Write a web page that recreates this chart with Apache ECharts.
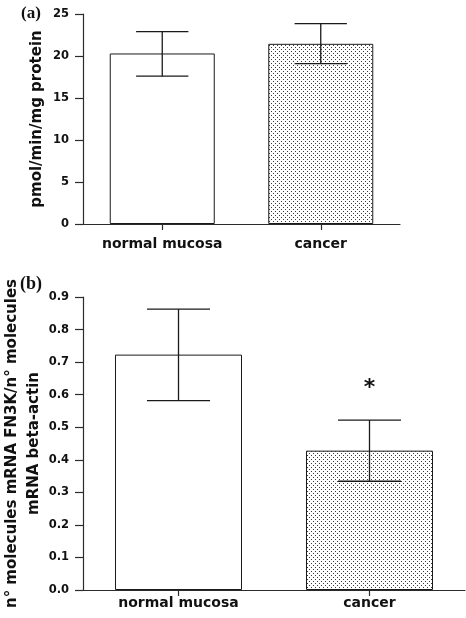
<!DOCTYPE html>
<html>
<head>
<meta charset="utf-8">
<script src="https://cdn.jsdelivr.net/npm/echarts@6/dist/echarts.min.js"></script>
<style>
html,body{margin:0;padding:0;background:#fff;}
#chart{width:466px;height:618px;}
</style>
</head>
<body>
<div id="chart"></div>
<script>
// ---- data ----
const categories = ['normal mucosa', 'cancer'];
// panel (a): enzyme activity
const activityMean = [20.3, 21.45];
const activityLow  = [17.6, 19.1];
const activityHigh = [22.9, 23.85];
const activityTicks = [0, 5, 10, 15, 20, 25];
// panel (b): mRNA ratio
const mrnaMean = [0.723, 0.428];
const mrnaLow  = [0.582, 0.334];
const mrnaHigh = [0.863, 0.522];
const mrnaTicks = [0.0, 0.1, 0.2, 0.3, 0.4, 0.5, 0.6, 0.7, 0.8, 0.9];
const significance = ['', '*'];

// ---- stipple pattern ----
function makeDots() {
  const c = document.createElement('canvas');
  c.width = 4; c.height = 4;
  const g = c.getContext('2d');
  g.fillStyle = '#ffffff'; g.fillRect(0, 0, 4, 4);
  g.fillStyle = '#3a3a3a';
  g.fillRect(1, 1, 1, 1);
  g.fillRect(3, 3, 1, 1);
  return c;
}
const dotFill = { image: makeDots(), repeat: 'repeat' };

const FONT = 'DejaVu Sans';
const axisColor = '#2b2b2b';

function barData(vals) {
  return vals.map((v, i) => ({
    value: v,
    itemStyle: { color: i === 1 ? dotFill : '#ffffff', borderColor: '#1a1a1a', borderWidth: 1 }
  }));
}
function errData(lo, hi, marks) {
  return lo.map((l, i) => [i, l, hi[i], marks ? marks[i] : '']);
}
function errRender(params, api) {
  const x = api.value(0);
  const lo = api.coord([x, api.value(1)]);
  const hi = api.coord([x, api.value(2)]);
  const half = api.size([1, 0])[0] * 0.165;
  const st = { stroke: '#1a1a1a', lineWidth: 1.3 };
  const children = [
    { type: 'line', shape: { x1: lo[0], y1: lo[1], x2: hi[0], y2: hi[1] }, style: st },
    { type: 'line', shape: { x1: hi[0] - half, y1: hi[1], x2: hi[0] + half, y2: hi[1] }, style: st },
    { type: 'line', shape: { x1: lo[0] - half, y1: lo[1], x2: lo[0] + half, y2: lo[1] }, style: st }
  ];
  const mark = api.value(3);
  if (mark) {
    children.push({ type: 'text', x: hi[0], y: hi[1] - 32,
      style: { text: mark, font: 'bold 22px ' + FONT, fill: '#111', align: 'center', verticalAlign: 'middle' } });
  }
  return { type: 'group', children: children };
}

function yAxisCfg(gi, min, max, interval, name, gap, dec) {
  return {
    gridIndex: gi, type: 'value', min: min, max: max, interval: interval,
    name: name, nameLocation: 'middle', nameGap: gap, nameRotate: 90, nameMoveOverlap: false,
    nameTextStyle: { fontFamily: FONT, fontWeight: 'bold', fontSize: 15, color: '#111', lineHeight: 22 },
    axisLine: { show: true, lineStyle: { color: axisColor, width: 1.2 } },
    axisTick: { show: true, length: 8, lineStyle: { color: axisColor, width: 1.2 } },
    axisLabel: { margin: 14, fontFamily: FONT, fontWeight: 'bold', fontSize: 11.5, color: '#111',
      formatter: v => v.toFixed(dec) },
    splitLine: { show: false }
  };
}
function xAxisCfg(gi, margin) {
  return {
    gridIndex: gi, type: 'category', data: categories,
    axisLine: { show: true, lineStyle: { color: axisColor, width: 1.2 } },
    axisTick: { show: true, alignWithLabel: true, length: 6, lineStyle: { color: axisColor, width: 1.2 } },
    axisLabel: { margin: margin, fontFamily: FONT, fontWeight: 'bold', fontSize: 14, color: '#111' }
  };
}

const chart = echarts.init(document.getElementById('chart'), null, { renderer: 'canvas' });
chart.setOption({
  animation: false,
  backgroundColor: '#ffffff',
  grid: [
    { left: 83, top: 14, width: 317, height: 210, containLabel: false, outerBoundsMode: 'none' },
    { left: 83, top: 297, width: 382, height: 293, containLabel: false, outerBoundsMode: 'none' }
  ],
  xAxis: [xAxisCfg(0, 13), xAxisCfg(1, 6)],
  yAxis: [
    yAxisCfg(0, activityTicks[0], activityTicks[activityTicks.length - 1], activityTicks[1] - activityTicks[0], 'pmol/min/mg protein', 35, 0),
    yAxisCfg(1, mrnaTicks[0], mrnaTicks[mrnaTicks.length - 1], 0.1, 'n° molecules mRNA FN3K/n° molecules\nmRNA beta-actin', 38, 1)
  ],
  graphic: [
    { type: 'text', left: 21, top: 5, style: { text: '(a)', font: 'bold 17px "Liberation Serif"', fill: '#111' } },
    { type: 'text', left: 20, top: 275, style: { text: '(b)', font: 'bold 18px "Liberation Serif"', fill: '#111' } }
  ],
  series: [
    { type: 'bar', xAxisIndex: 0, yAxisIndex: 0, barWidth: 105, data: barData(activityMean), z: 2 },
    { type: 'custom', xAxisIndex: 0, yAxisIndex: 0, renderItem: errRender,
      encode: { x: 0, y: [1, 2] }, data: errData(activityLow, activityHigh), z: 3 },
    { type: 'bar', xAxisIndex: 1, yAxisIndex: 1, barWidth: 127, data: barData(mrnaMean), z: 2 },
    { type: 'custom', xAxisIndex: 1, yAxisIndex: 1, renderItem: errRender,
      encode: { x: 0, y: [1, 2] }, data: errData(mrnaLow, mrnaHigh, significance), z: 3 }
  ]
});
</script>
</body>
</html>
